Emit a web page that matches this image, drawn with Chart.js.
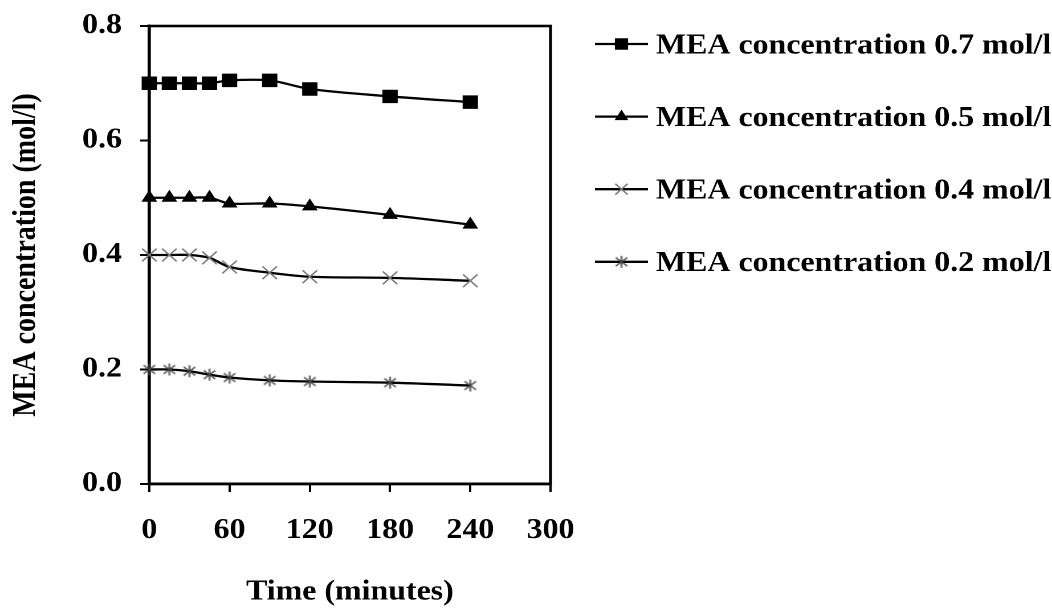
<!DOCTYPE html>
<html>
<head>
<meta charset="utf-8">
<script src="https://cdn.jsdelivr.net/npm/chart.js@4.4.1/dist/chart.umd.min.js"></script>
<style>
  html, body { margin: 0; padding: 0; background: #fff; overflow: hidden; }
  /* the figure is laid out in a narrower box and widened, giving the broad lettering */
  #wrap { position: absolute; left: 0; top: 0; width: 923px; height: 609px;
          transform: scaleX(1.1398); transform-origin: 0 0; }
</style>
</head>
<body>
<div id="wrap"><canvas id="c"></canvas></div>
<script>
// Sampling times (minutes)
const timeMinutes = [0, 15, 30, 45, 60, 90, 120, 180, 240];

// Measured MEA concentration (mol/l) for each starting concentration
const mea07 = [0.700, 0.700, 0.700, 0.700, 0.705, 0.705, 0.690, 0.677, 0.667];
const mea05 = [0.500, 0.500, 0.500, 0.500, 0.490, 0.490, 0.485, 0.470, 0.453];
const mea04 = [0.400, 0.400, 0.400, 0.395, 0.379, 0.369, 0.362, 0.360, 0.355];
const mea02 = [0.200, 0.200, 0.197, 0.191, 0.186, 0.181, 0.179, 0.177, 0.172];

const seriesLabels = [
  'MEA concentration 0.7 mol/l',
  'MEA concentration 0.5 mol/l',
  'MEA concentration 0.4 mol/l',
  'MEA concentration 0.2 mol/l'
];

const xTicks = [0, 60, 120, 180, 240, 300];
const yTicks = [0.0, 0.2, 0.4, 0.6, 0.8];

const FONT = '"Liberation Serif", "Times New Roman", serif';

// asterisk marker: vertical stroke plus a diagonal cross
function asteriskMarker(size, color) {
  const cv = document.createElement('canvas');
  cv.width = size; cv.height = size;
  const g = cv.getContext('2d');
  const m = size / 2, a = size / 2 - 1;
  g.strokeStyle = color;
  g.lineWidth = 1.4;
  g.beginPath();
  g.moveTo(m, m - a); g.lineTo(m, m + a);
  g.moveTo(m - a * 0.85, m - a * 0.7); g.lineTo(m + a * 0.85, m + a * 0.7);
  g.moveTo(m - a * 0.85, m + a * 0.7); g.lineTo(m + a * 0.85, m - a * 0.7);
  g.stroke();
  return cv;
}

const starImg = asteriskMarker(14, '#444');

function pts(values) {
  return timeMinutes.map((t, i) => ({ x: t, y: values[i] }));
}

const common = {
  borderColor: '#000',
  borderWidth: 2.3,
  tension: 0.3,
  clip: false,
  fill: false
};

const datasets = [
  Object.assign({}, common, { label: seriesLabels[0], data: pts(mea07),
    pointStyle: 'rect', pointRadius: 8.8, pointBackgroundColor: '#000', pointBorderColor: '#000', pointBorderWidth: 1 }),
  Object.assign({}, common, { label: seriesLabels[1], data: pts(mea05),
    pointStyle: 'triangle', pointRadius: 7, pointBackgroundColor: '#000', pointBorderColor: '#000', pointBorderWidth: 1 }),
  Object.assign({}, common, { label: seriesLabels[2], data: pts(mea04),
    pointStyle: 'crossRot', pointRadius: 9, pointBackgroundColor: '#777', pointBorderColor: '#777', pointBorderWidth: 1.4 }),
  Object.assign({}, common, { label: seriesLabels[3], data: pts(mea02),
    pointStyle: starImg, pointRadius: 7 })
];

// full box around the plotting area
const plotFrame = {
  id: 'plotFrame',
  beforeDatasetsDraw(chart) {
    const { ctx, chartArea: a } = chart;
    ctx.save();
    ctx.strokeStyle = '#000';
    ctx.lineWidth = 2.6;
    ctx.strokeRect(a.left, a.top, a.right - a.left, a.bottom - a.top);
    ctx.restore();
  }
};

// legend on the right: line sample with marker, then label
const sideLegend = {
  id: 'sideLegend',
  afterDraw(chart) {
    const ctx = chart.ctx;
    const x1 = 522, x2 = 568.5, tx = 575.5;
    ctx.save();
    chart.data.datasets.forEach((ds, i) => {
      const y = 44 + i * 72.6;
      ctx.strokeStyle = '#000';
      ctx.lineWidth = 2.3;
      ctx.beginPath();
      ctx.moveTo(x1, y); ctx.lineTo(x2, y);
      ctx.stroke();
      ctx.fillStyle = ds.pointBackgroundColor || '#000';
      ctx.strokeStyle = ds.pointBorderColor || '#000';
      ctx.lineWidth = ds.pointBorderWidth || 1;
      Chart.helpers.drawPoint(ctx, {
        pointStyle: ds.pointStyle,
        radius: ds.pointRadius * 0.85,
        rotation: 0,
        borderWidth: ds.pointBorderWidth || 1
      }, (x1 + x2) / 2, y);
      ctx.fillStyle = '#000';
      ctx.font = 'bold 28px ' + FONT;
      ctx.textBaseline = 'alphabetic';
      ctx.textAlign = 'left';
      ctx.fillText(ds.label, tx, y + 9.3);
    });
    ctx.restore();
  }
};

new Chart(document.getElementById('c'), {
  type: 'line',
  data: { datasets },
  plugins: [plotFrame, sideLegend],
  options: {
    responsive: true,
    maintainAspectRatio: false,
    devicePixelRatio: 2,
    animation: false,
    events: [],
    layout: { padding: { left: 0, top: 26, right: 440, bottom: 0 } },
    plugins: { legend: { display: false }, tooltip: { enabled: false } },
    scales: {
      x: {
        type: 'linear',
        min: 0, max: 300,
        afterBuildTicks: s => { s.ticks = xTicks.map(v => ({ value: v })); },
        afterFit: s => { s.height = 125; s.paddingLeft = 0; s.paddingRight = 0; },
        ticks: { color: '#000', padding: 22, font: { family: FONT, size: 28, weight: 'bold' } },
        grid: { display: true, drawOnChartArea: false, drawTicks: true, tickLength: 8, tickColor: '#000', tickWidth: 2 },
        border: { display: true, color: '#000', width: 2.6 },
        title: { display: true, text: 'Time (minutes)', color: '#000',
                 font: { family: FONT, size: 28, weight: 'bold' }, padding: { top: 0, bottom: 0 } }
      },
      y: {
        type: 'linear',
        min: 0, max: 0.8,
        afterBuildTicks: s => { s.ticks = yTicks.map(v => ({ value: v })); },
        afterFit: s => { s.width = 131; s.paddingTop = 0; s.paddingBottom = 0; },
        ticks: { color: '#000', padding: 16, callback: v => v.toFixed(1),
                 font: { family: FONT, size: 28, weight: 'bold' } },
        grid: { display: true, drawOnChartArea: false, drawTicks: true, tickLength: 8, tickColor: '#000', tickWidth: 2 },
        border: { display: true, color: '#000', width: 2.6 },
        title: { display: true, text: 'MEA concentration (mol/l)', color: '#000',
                 font: { family: FONT, size: 28, weight: 'bold' }, padding: { top: 6.5, bottom: 0 } }
      }
    }
  }
});
</script>
</body>
</html>
